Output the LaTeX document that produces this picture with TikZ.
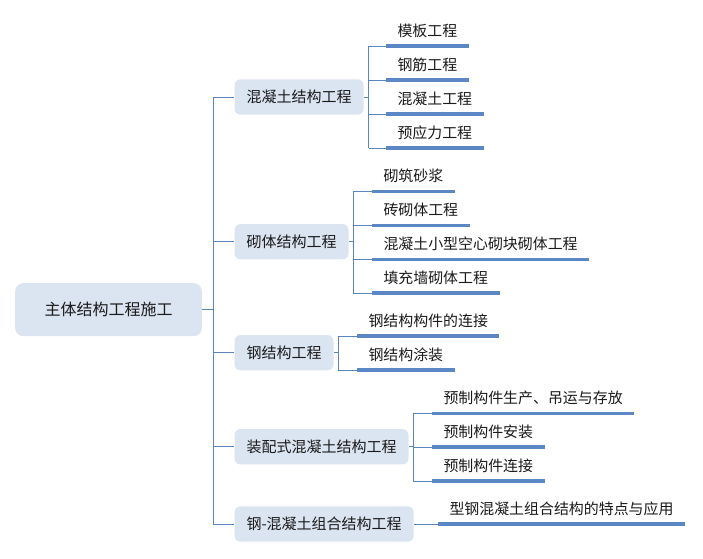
\documentclass[tikz,border=0pt]{standalone}
\usepackage{fontspec}
\setmainfont{Noto Sans CJK SC}
\definecolor{boxfill}{HTML}{DBE4F1}
\definecolor{linkblue}{HTML}{5A84BE}
\definecolor{barblue}{HTML}{5B87C4}
\definecolor{inkgray}{HTML}{1A1A1A}

\begin{document}
\begin{tikzpicture}[x=.75pt,y=-.75pt,line width=.75pt,
  rootbox/.style={fill=boxfill,rounded corners=6pt,minimum width=140pt,minimum height=39.75pt,inner sep=0pt,text=inkgray,font=\fontsize{12}{14}\selectfont},
  topicbox/.style={anchor=west,fill=boxfill,rounded corners=4.5pt,inner xsep=9pt,inner ysep=0pt,minimum height=26.5pt,text=inkgray,font=\fontsize{11.25}{13}\selectfont},
  leaf/.style={anchor=south west,inner xsep=8.25pt,inner ysep=0pt,minimum height=22.5pt,text=inkgray,font=\fontsize{11.2}{13}\selectfont},
  link/.style={draw=linkblue,line width=.75pt},
  bar/.style={draw=barblue,line width=2.4pt}]
\path[use as bounding box] (0,0) rectangle (703,558);
% root
\node[rootbox] (root) at (108.5,309.7) {主体结构工程施工};
\coordinate (trunk) at (213,309.7);
% topics
\node[topicbox] (conc) at (234,97) {混凝土结构工程};
\node[topicbox] (mason) at (234,241.7) {砌体结构工程};
\node[topicbox] (steel) at (234,352.7) {钢结构工程};
\node[topicbox] (prefab) at (234,446.8) {装配式混凝土结构工程};
\node[topicbox] (comp) at (234,524) {钢-混凝土组合结构工程};
\draw[link] (root.east) -- (trunk);
\draw[link] (trunk |- conc.west) -- (trunk |- comp.west);
\draw[link] (trunk |- conc.west) -- (conc.west);
\draw[link] (trunk |- mason.west) -- (mason.west);
\draw[link] (trunk |- steel.west) -- (steel.west);
\draw[link] (trunk |- prefab.west) -- (prefab.west);
\draw[link] (trunk |- comp.west) -- (comp.west);
% concrete
\node[leaf] (form) at (386,46) {模板工程};
\node[leaf] (rebar) at (386,80) {钢筋工程};
\node[leaf] (pour) at (386,114) {混凝土工程};
\node[leaf] (prest) at (386,148) {预应力工程};
\coordinate (b1) at (368.5,97);
\draw[link] (conc.east) -- (b1);
\draw[link] (b1 |- form.south west) -- (b1 |- prest.south west);
\draw[link] (b1 |- form.south west) -- (form.south west);
\draw[link] (b1 |- rebar.south west) -- (rebar.south west);
\draw[link] (b1 |- pour.south west) -- (pour.south west);
\draw[link] (b1 |- prest.south west) -- (prest.south west);
\draw[bar] (form.south west) -- (form.south east);
\draw[bar] (rebar.south west) -- (rebar.south east);
\draw[bar] (pour.south west) -- (pour.south east);
\draw[bar] (prest.south west) -- (prest.south east);
% masonry
\node[leaf] (mortar) at (372,191.7) {砌筑砂浆};
\node[leaf] (brick) at (372,225.5) {砖砌体工程};
\node[leaf] (block) at (372,259.2) {混凝土小型空心砌块砌体工程};
\node[leaf] (infill) at (372,293) {填充墙砌体工程};
\coordinate (b2) at (353.3,241.7);
\draw[link] (mason.east) -- (b2);
\draw[link] (b2 |- mortar.south west) -- (b2 |- infill.south west);
\draw[link] (b2 |- mortar.south west) -- (mortar.south west);
\draw[link] (b2 |- brick.south west) -- (brick.south west);
\draw[link] (b2 |- block.south west) -- (block.south west);
\draw[link] (b2 |- infill.south west) -- (infill.south west);
\draw[bar] (mortar.south west) -- (mortar.south east);
\draw[bar] (brick.south west) -- (brick.south east);
\draw[bar] (block.south west) -- (block.south east);
\draw[bar] (infill.south west) -- (infill.south east);
% steel
\node[leaf] (joint) at (357,336) {钢结构构件的连接};
\node[leaf] (coat) at (357,370) {钢结构涂装};
\coordinate (b3) at (338.3,352.7);
\draw[link] (steel.east) -- (b3);
\draw[link] (b3 |- joint.south west) -- (b3 |- coat.south west);
\draw[link] (b3 |- joint.south west) -- (joint.south west);
\draw[link] (b3 |- coat.south west) -- (coat.south west);
\draw[bar] (joint.south west) -- (joint.south east);
\draw[bar] (coat.south west) -- (coat.south east);
% prefabricated
\node[leaf] (make) at (432,413.3) {预制构件生产、吊运与存放};
\node[leaf] (mount) at (432,447) {预制构件安装};
\node[leaf] (link) at (432,481) {预制构件连接};
\coordinate (b4) at (413.3,446.8);
\draw[link] (prefab.east) -- (b4);
\draw[link] (b4 |- make.south west) -- (b4 |- link.south west);
\draw[link] (b4 |- make.south west) -- (make.south west);
\draw[link] (b4 |- mount.south west) -- (mount.south west);
\draw[link] (b4 |- link.south west) -- (link.south west);
\draw[bar] (make.south west) -- (make.south east);
\draw[bar] (mount.south west) -- (mount.south east);
\draw[bar] (link.south west) -- (link.south east);
% composite
\node[leaf] (src) at (438,524) {型钢混凝土组合结构的特点与应用};
\draw[link] (comp.east) -- (src.south west);
\draw[bar] (src.south west) -- (src.south east);
\end{tikzpicture}
\end{document}
